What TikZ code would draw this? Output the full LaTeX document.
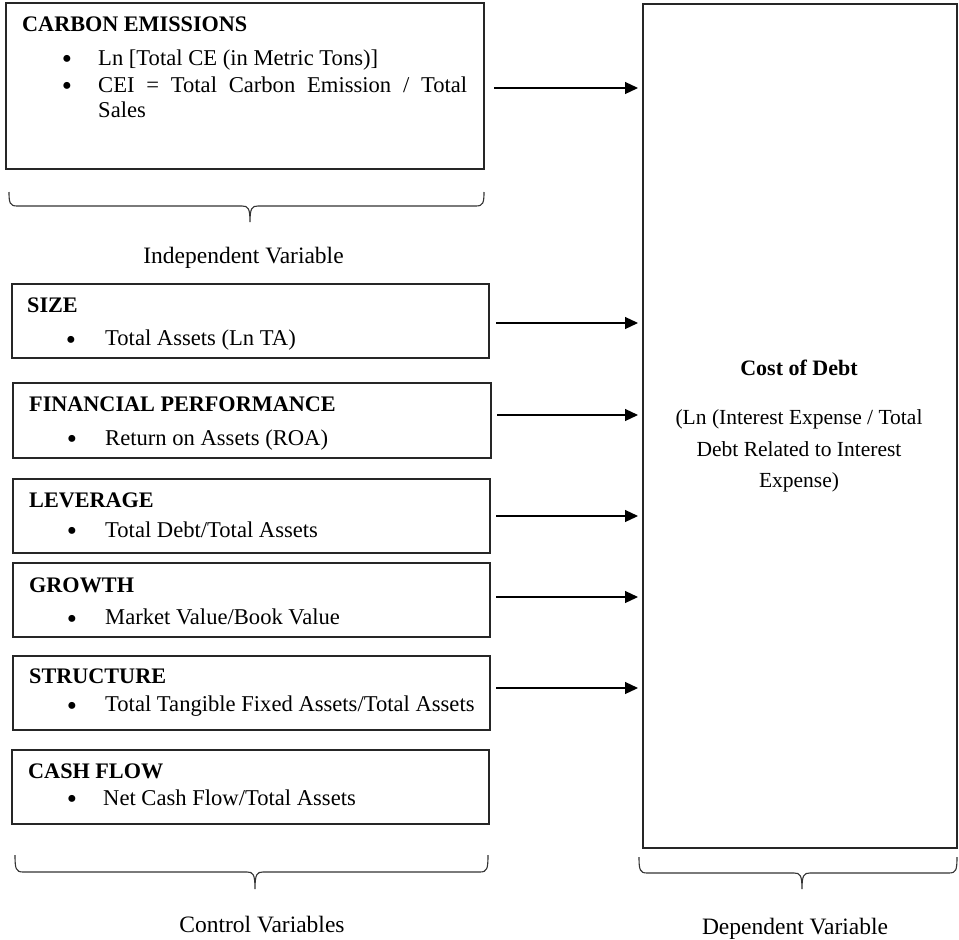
\documentclass[tikz,border=0pt]{standalone}
\usepackage{fontspec}
\setmainfont{Liberation Serif}
\usetikzlibrary{arrows.meta}
\newcommand{\hbrace}[6]{% x1, x2, ytop, yline, xtip, ytip
  \draw[bracestyle] (#1,#3) .. controls (#1,#4-3) and (#1+1,#4) .. (#1+8,#4)
    -- (#5-8,#4) .. controls (#5-2,#4) and (#5,#4+2) .. (#5,#6)
    .. controls (#5,#4+2) and (#5+2,#4) .. (#5+8,#4)
    -- (#2-8,#4) .. controls (#2-1,#4) and (#2,#4-3) .. (#2,#3);}
\begin{document}
\begin{tikzpicture}[x=1pt,y=-1pt,
  box/.style={draw=black!85, line width=1.2pt, inner sep=0pt, outer sep=0pt, anchor=north west},
  txt/.style={anchor=base west, inner sep=0pt, font=\fontsize{22.6}{26}\selectfont},
  bul/.style={anchor=center, inner sep=0pt, yshift=-4pt, font=\fontsize{29}{30}\selectfont},
  head/.style={txt, font=\fontsize{22.2}{26}\selectfont\bfseries},
  ctr/.style={anchor=base, inner sep=0pt, font=\fontsize{21.5}{26}\selectfont},
  lbl/.style={anchor=base, inner sep=0pt, font=\fontsize{23.5}{28}\selectfont},
  arr/.style={line width=1.2pt, -{Triangle[length=13pt,width=12pt]}, shorten >=5pt},
  bracestyle/.style={line width=1.1pt, black!80}]
\useasboundingbox (0,0) rectangle (959,940);

% boxes
\node[box, minimum width=478pt, minimum height=166pt] (ce) at (6,3) {};
\node[box, minimum width=477pt, minimum height=74pt] (size) at (12,284) {};
\node[box, minimum width=478pt, minimum height=75pt] (fp) at (13,383) {};
\node[box, minimum width=477pt, minimum height=74pt] (lev) at (13,479) {};
\node[box, minimum width=477pt, minimum height=74pt] (gro) at (13,563) {};
\node[box, minimum width=477pt, minimum height=74pt] (str) at (13,656) {};
\node[box, minimum width=477pt, minimum height=74pt] (cf) at (12,750) {};
\node[box, minimum width=314pt, minimum height=844pt] (cod) at (643,4) {};

% carbon emissions
\node[head] (ceh) at (22,31) {CARBON EMISSIONS};
\node[bul] (ceb1) at (67,58) {\textbullet};
\node[txt] (cet1) at (98,65) {Ln [Total CE (in Metric Tons)]};
\node[bul] (ceb2) at (67,85) {\textbullet};
\node[txt] (cet2) at (98,92) {\makebox[369pt][s]{CEI = Total Carbon Emission / Total}};
\node[txt] (cet3) at (98,117) {Sales};

% size
\node[head] (sizeh) at (27,312) {SIZE};
\node[bul] (sizeb) at (71,339) {\textbullet};
\node[txt] (sizet) at (105,345) {Total Assets (Ln TA)};

% financial performance
\node[head] (fph) at (29,411) {FINANCIAL PERFORMANCE};
\node[bul] (fpb) at (72,438) {\textbullet};
\node[txt] (fpt) at (105,445) {Return on Assets (ROA)};

% leverage
\node[head] (levh) at (29,507) {LEVERAGE};
\node[bul] (levb) at (72,530) {\textbullet};
\node[txt] (levt) at (105,537) {Total Debt/Total Assets};

% growth
\node[head] (groh) at (29,592) {GROWTH};
\node[bul] (grob) at (72,618) {\textbullet};
\node[txt] (grot) at (105,624) {Market Value/Book Value};

% structure
\node[head] (strh) at (29,683) {STRUCTURE};
\node[bul] (strb) at (72,705) {\textbullet};
\node[txt] (strt) at (105,711) {Total Tangible Fixed Assets/Total Assets};

% cash flow
\node[head] (cfh) at (28,778) {CASH FLOW};
\node[bul] (cfb) at (72,798) {\textbullet};
\node[txt] (cft) at (103,805) {Net Cash Flow/Total Assets};

% cost of debt
\node[ctr, font=\fontsize{22}{26}\selectfont\bfseries] (codh) at (799,375) {Cost of Debt};
\node[ctr] (cod1) at (799,424) {(Ln (Interest Expense / Total};
\node[ctr] (cod2) at (799,456) {Debt Related to Interest};
\node[ctr] (cod3) at (799,487) {Expense)};

% arrows
\coordinate (ceA) at ([xshift=10pt,yshift=-2pt]ce.east);
\coordinate (sizeA) at ([xshift=7pt,yshift=-2pt]size.east);
\coordinate (fpA) at ([xshift=6pt,yshift=5.5pt]fp.east);
\coordinate (levA) at ([xshift=6pt]lev.east);
\coordinate (groA) at ([xshift=6pt,yshift=3pt]gro.east);
\coordinate (strA) at ([xshift=6pt,yshift=5pt]str.east);
\foreach \a in {ceA,sizeA,fpA,levA,groA,strA}
  \draw[arr] (\a) -- (\a -| cod.west);

% braces and labels
\hbrace{9}{484}{192}{206}{250}{222}
\node[lbl] (indep) at (243.5,263) {Independent Variable};
\hbrace{15}{488}{855}{872}{255}{889}
\node[lbl] (ctrl) at (262,932) {Control Variables};
\hbrace{639}{957}{857}{873}{802}{889}
\node[lbl] (dep) at (795,934) {Dependent Variable};
\end{tikzpicture}
\end{document}
